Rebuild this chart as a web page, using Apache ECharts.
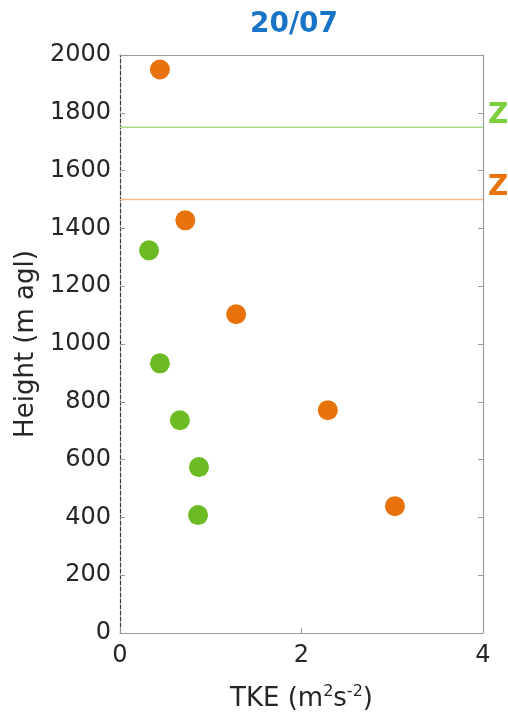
<!DOCTYPE html>
<html><head><meta charset="utf-8">
<script src="https://cdn.jsdelivr.net/npm/echarts@6/dist/echarts.min.js"></script>
<style>html,body{margin:0;padding:0;background:#fff}#c{width:508px;height:719px}</style>
</head><body><div id="c"></div>
<script>
var orangeTKE = [0.44, 0.72, 1.28, 2.29, 3.03];
var orangeHeight = [1950, 1428, 1103, 771, 439];
var greenTKE = [0.32, 0.44, 0.66, 0.87, 0.86];
var greenHeight = [1324, 933, 736, 574, 408];
var ziGreen = 1750;
var ziOrange = 1500;
var ziLabel = 'Zi';
var xTicks = [0, 2, 4];
var yTicks = [0, 200, 400, 600, 800, 1000, 1200, 1400, 1600, 1800, 2000];

var ORANGE = '#e8720c', GREEN = '#6cbb24';
var XMIN = xTicks[0], XMAX = xTicks[xTicks.length-1];
function pairs(xs, ys){ return xs.map(function(x,i){ return [x, ys[i]]; }); }
var chart = echarts.init(document.getElementById('c'));
var F = 'DejaVu Sans, sans-serif';
function zSeries(val, lineColor, textColor){
  return { type: 'line', data: [[XMIN, val], [XMAX, val]], showSymbol: false, symbol: 'none',
    silent: true, z: 1,
    lineStyle: { color: lineColor, width: 1.3, type: 'solid', opacity: 1 },
    itemStyle: { color: lineColor },
    emphasis: { disabled: true },
    endLabel: { show: true, formatter: ziLabel, color: textColor, fontSize: 28,
      fontWeight: 'bold', fontFamily: F, distance: 5, offset: [0, -12] } };
}
chart.setOption({
  animation: false,
  title: { text: '20/07', left: 289, top: 6, textAlign: 'center',
    textStyle: { color: '#1874c6', fontSize: 28, fontWeight: 'bold', fontFamily: F } },
  grid: { left: 120, right: 25, top: 55, bottom: 86, show: false },
  xAxis: [{
    type: 'value', min: XMIN, max: XMAX, interval: 2,
    axisLine: { show: true, onZero: false, lineStyle: { color: '#9a9a9a', width: 1.2 } },
    axisTick: { show: true, inside: true, length: 5, lineStyle: { color: '#9a9a9a' } },
    axisLabel: { color: '#262626', fontSize: 24, fontFamily: F, margin: 11 },
    splitLine: { show: false },
    name: 'TKE (m{sup|2}s{sup|-2})', nameLocation: 'middle', nameGap: 51,
    nameTextStyle: { color: '#262626', fontSize: 26, fontFamily: F,
      rich: { sup: { fontSize: 16, fontFamily: F, color: '#262626', padding: [0,0,15,0] } } }
  }, {
    type: 'value', position: 'top', min: XMIN, max: XMAX, interval: 2,
    axisLine: { show: true, onZero: false, lineStyle: { color: '#9a9a9a', width: 1.2 } },
    axisTick: { show: false }, axisLabel: { show: false }, splitLine: { show: false }
  }],
  yAxis: [{
    type: 'value', min: yTicks[0], max: yTicks[yTicks.length-1], interval: 200,
    axisLine: { show: true, onZero: false, lineStyle: { color: '#3a3a3a', width: 1.2, type: [4, 2] } },
    axisTick: { show: true, inside: true, length: 5, lineStyle: { color: '#9a9a9a' } },
    axisLabel: { color: '#262626', fontSize: 24, fontFamily: F, margin: 9,
      formatter: function(v){ return String(v); } },
    splitLine: { show: false },
    name: 'Height (m agl)', nameLocation: 'middle', nameGap: 76, nameRotate: 90,
    nameTextStyle: { color: '#262626', fontSize: 26, fontFamily: F }
  }, {
    type: 'value', position: 'right', min: yTicks[0], max: yTicks[yTicks.length-1], interval: 200,
    axisLine: { show: true, onZero: false, lineStyle: { color: '#9a9a9a', width: 1.2 } },
    axisTick: { show: true, inside: true, length: 5, lineStyle: { color: '#9a9a9a' } },
    axisLabel: { show: false }, splitLine: { show: false }
  }],
  series: [
    zSeries(ziOrange, '#f5b98a', ORANGE),
    zSeries(ziGreen, '#a9dc8a', '#7ccf3a'),
  {
    type: 'scatter', data: pairs(orangeTKE, orangeHeight), symbolSize: 20, z: 3,
    itemStyle: { color: ORANGE, opacity: 1 }
  }, {
    type: 'scatter', data: pairs(greenTKE, greenHeight), symbolSize: 20, z: 3,
    itemStyle: { color: GREEN, opacity: 1 }
  }]
});
</script></body></html>
